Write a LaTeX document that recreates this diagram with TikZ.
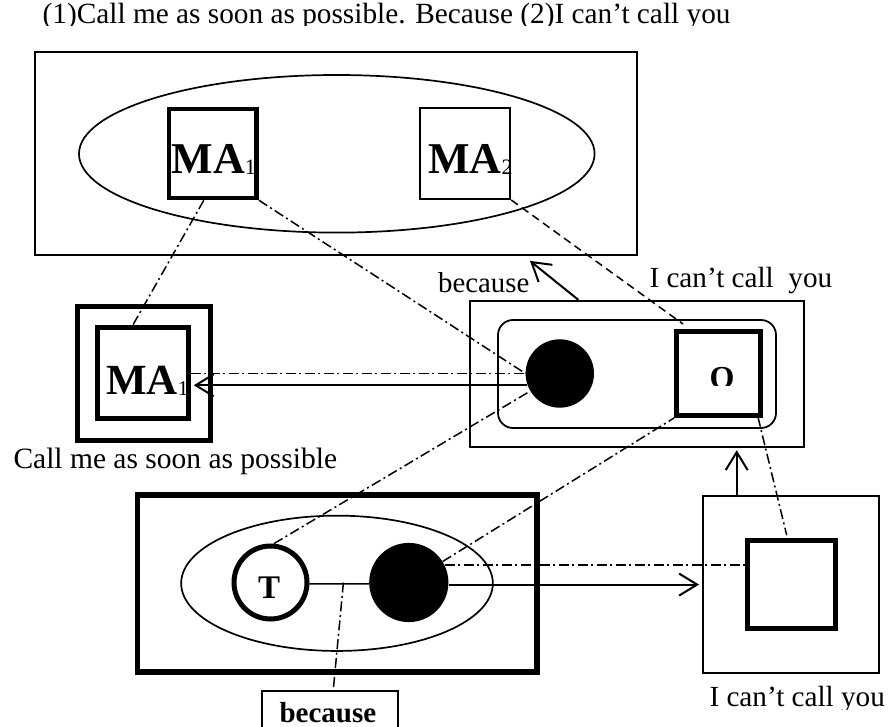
\documentclass[tikz,border=0pt]{standalone}
\usepackage{fontspec}
\setmainfont{Liberation Serif}
\usetikzlibrary{shapes.geometric,arrows.meta,calc}
\newcommand\myfs[1]{\fontsize{#1}{#1}\selectfont}
\begin{document}
\begin{tikzpicture}[x=1pt,y=-1pt,
  box/.style={draw,rectangle,inner sep=0pt,line width=1.8pt},
  thickbox/.style={draw,rectangle,inner sep=0pt,line width=5pt},
  ell/.style={draw,ellipse,inner sep=0pt,line width=1.7pt},
  blackdot/.style={circle,fill=black,inner sep=0pt},
  txt/.style={inner sep=0pt,anchor=base west},
  dd/.style={line width=1.5pt,dash pattern=on 10pt off 3.5pt on 2pt off 3.5pt},
  dsh/.style={line width=1.5pt,dash pattern=on 8pt off 5pt},
  arr/.style={line width=2pt,-{Straight Barb[length=18pt,width=22pt,line width=2pt]}},
  plain/.style={line width=1.5pt}]
\useasboundingbox (0,0) rectangle (889,727);
\clip (0,0) rectangle (889,727);

% title (clipped at bottom as in the reference)
\begin{scope}
\clip (0,0) rectangle (889,25.5);
\node[txt] (title) at (42.5,24) {\myfs{29.3}(1)Call me as soon as possible. Because (2)I can’t call you};
\end{scope}

% top group
\node[box, minimum width=602, minimum height=203] (topbox) at (336,153.5) {};
\node[ell, minimum width=515.6, minimum height=157.6] (topell) at (336.8,153.8) {};
\node[box, line width=4.5pt, minimum width=87.6, minimum height=89] (ma1top) at (212.8,153.5) {};
\node[txt] (ma1toptxt) at (171.3,173.3) {\myfs{44}\bfseries MA\raisebox{-1pt}{\myfs{22}\mdseries 1}};
\node[box, line width=2pt, minimum width=90, minimum height=90.7] (ma2) at (465.3,153.7) {};
\node[txt] (ma2txt) at (428,173.3) {\myfs{44}\bfseries MA\raisebox{-1pt}{\myfs{22}\mdseries 2}};

% left double box
\node[thickbox, minimum width=133.3, minimum height=133.7] (ma1out) at (144.2,373.4) {};
\node[thickbox, minimum width=90.7, minimum height=91] (ma1in) at (142.9,373) {};
\node[txt] (ma1intxt) at (106,394) {\myfs{43}\bfseries MA\raisebox{-1pt}{\myfs{21}\mdseries 1}};
\node[txt] (callme) at (13.3,468.3) {\myfs{29.5}Call me as soon as possible};

% middle group
\node[box, minimum width=334, minimum height=146] (midbox) at (637,373.7) {};
\node[box, rounded corners=15pt, minimum width=278, minimum height=108] (midround) at (637,374) {};
\node[blackdot, minimum size=68.4] (bcmid) at (559.8,373.5) {};
\node[box, line width=4.5pt, minimum size=84.4] (osq) at (718.5,373.5) {};
\begin{scope}
\clip (700,350) rectangle (745,385);
\node[txt] (otxt) at (709.5,388.5) {\myfs{32}\bfseries O};
\end{scope}
\node[txt] (because1) at (438,292.3) {\myfs{28.8}because};
\node[txt] (icant1) at (649.3,287.3) {\myfs{29.2}I can’t call\ \ you};

% right group
\node[box, minimum width=176.3, minimum height=176.7] (rbox) at (790.8,584.3) {};
\node[thickbox, minimum size=87.7] (rin) at (791.3,584.5) {};
\begin{scope}
\clip (690,680) rectangle (889,709);
\node[txt] (icant2) at (709.3,706.7) {\myfs{29.2}I can’t call you};
\end{scope}

% bottom group
\node[thickbox, line width=5.5pt, minimum width=399.5, minimum height=176.8] (botbox) at (337.3,583.6) {};
\node[ell, minimum width=311.7, minimum height=135.3] (botell) at (337,583.3) {};
\node[circle, draw, line width=5pt, minimum size=73, inner sep=0pt] (tcirc) at (270.5,582.5) {};
\node[txt] (ttxt) at (258,598) {\myfs{33}\bfseries T};
\node[blackdot, minimum size=79.2] (bcbot) at (408.8,582.5) {};
\node[draw, line width=2pt, minimum width=136, minimum height=60, inner sep=0pt] (becbox) at (330.3,720.7) {};
\node[txt] (becbtxt) at (279.3,722.5) {\myfs{29}\bfseries because};

% connectors
\draw[dd] (ma1top.south east) -- (bcmid.west);
\draw[dd] ($(ma1top.south)+(-9,0)$) -- ($(ma1in.north)+(-10,0)$);
\draw[dsh] (ma2.south east) -- ($(osq.north west)+(9,-5)$);
\draw[dd] (ma1in.east |- bcmid.west) -- (bcmid.west);
\draw[arr] (bcmid.200) -- ($(bcmid.200 -| ma1in.east)+(3,0)$);
\draw[arr] ($(midbox.north)+(-58.7,0)$) -- ($(topbox.south)+(194,5)$);
\draw[arr] ($(rbox.north)+(-54.1,0)$) -- ($(midbox.south -| rbox.north)+(-54.1,2.6)$);
\draw[dd] ($(osq.south east)+(-5,-1)$) -- ($(rin.north)+(-4.6,-3)$);
\draw[dd] (bcbot) -- (osq.south west);
\draw[dd] (tcirc.85) -- (bcmid);
\draw[dd] (bcbot.26) -- (bcbot.26 -| rin.west);
\draw[arr] (bcbot.-3) -- ($(bcbot.-3 -| rbox.west)+(-2.7,0)$);
\draw[plain] (tcirc.-2) -- (bcbot.182);
\coordinate (tbmid) at ($(tcirc.east)!0.57!(bcbot.west)$);
\draw[dd] (tbmid) -- ($(becbox.north)+(3,0)$);
\end{tikzpicture}
\end{document}
